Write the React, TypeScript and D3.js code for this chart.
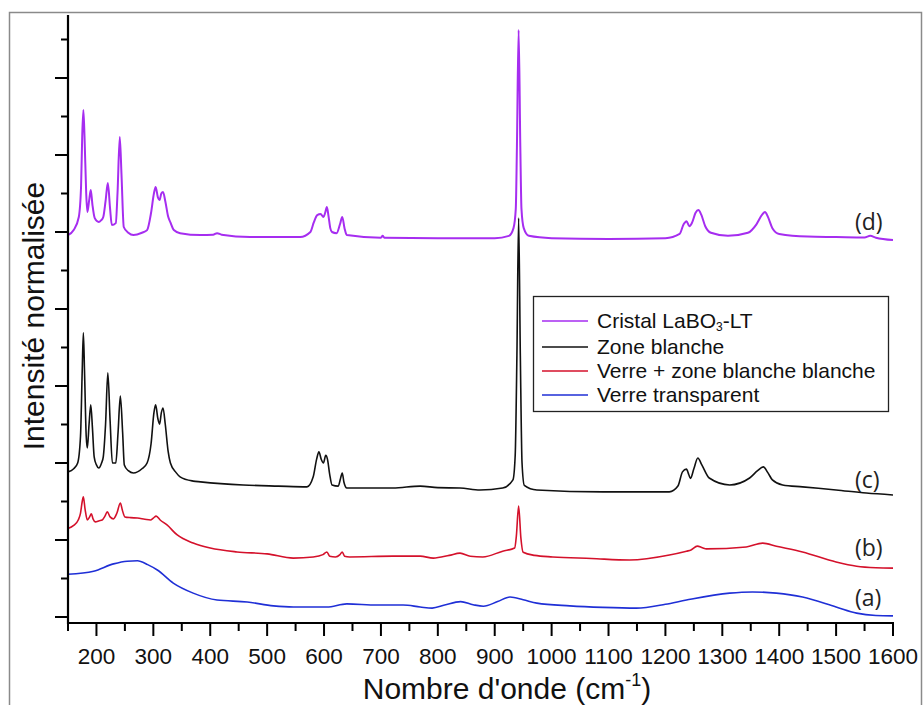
import React from "react";
import * as d3 from "d3";

const xTicksMajor = [200, 300, 400, 500, 600, 700, 800, 900, 1000, 1100, 1200, 1300, 1400, 1500, 1600];
const xTicksMinor = [150, 250, 350, 450, 550, 650, 750, 850, 950, 1050, 1150, 1250, 1350, 1450, 1550];
const yTicksMajor = [0, 2, 4, 6, 8, 10, 12, 14];
const yTicksMinor = [1, 3, 5, 7, 9, 11, 13, 15];

const seriesNames = ["Cristal LaBO3-LT", "Zone blanche", "Verre + zone blanche blanche", "Verre transparent"];
const curveLabels = ["(d)", "(c)", "(b)", "(a)"];

const spectrumA: [number, number][] = [
  [150, 1.11], [195, 1.19], [230, 1.38], [254, 1.45], [272, 1.46], [290, 1.36], [307, 1.22], [335, 0.88], [370, 0.62],
  [412, 0.44], [465, 0.39], [511, 0.29], [546, 0.26], [605, 0.26], [640, 0.34], [693, 0.31], [739, 0.31], [769, 0.26],
  [790, 0.23], [812, 0.31], [840, 0.4], [862, 0.32], [880, 0.28], [905, 0.4], [927, 0.52], [950, 0.45], [974, 0.36],
  [1032, 0.29], [1090, 0.25], [1149, 0.23], [1200, 0.33], [1237, 0.44], [1313, 0.62], [1353, 0.65], [1395, 0.62],
  [1441, 0.52], [1500, 0.26], [1536, 0.1], [1570, 0.04], [1600, 0.03],
];

const spectrumB: [number, number][] = [
  [150, 2.3], [160, 2.38], [168, 2.52], [172, 2.7], [175, 3.0], [177, 3.12], [180, 2.8], [184, 2.52], [188, 2.6],
  [191, 2.68], [194, 2.55], [198, 2.47], [205, 2.5], [210, 2.52], [215, 2.62], [219, 2.73], [224, 2.6], [230, 2.55],
  [236, 2.7], [242, 2.96], [246, 2.75], [250, 2.6], [260, 2.58], [272, 2.57], [285, 2.54], [295, 2.52], [300, 2.57],
  [305, 2.62], [312, 2.52], [324, 2.39], [342, 2.13], [370, 1.92], [400, 1.79], [447, 1.69], [500, 1.64], [546, 1.53],
  [581, 1.56], [598, 1.62], [605, 1.69], [610, 1.58], [620, 1.56], [628, 1.62], [632, 1.69], [636, 1.58], [645, 1.56],
  [721, 1.58], [769, 1.58], [792, 1.53], [820, 1.6], [839, 1.66], [857, 1.58], [879, 1.56], [914, 1.71], [935, 1.79],
  [938, 2.1], [942, 2.88], [946, 2.05], [950, 1.68], [970, 1.6], [1002, 1.56], [1070, 1.52], [1137, 1.48], [1207, 1.61],
  [1237, 1.71], [1245, 1.74], [1256, 1.84], [1265, 1.8], [1272, 1.77], [1342, 1.82], [1371, 1.92], [1395, 1.84],
  [1441, 1.69], [1500, 1.43], [1536, 1.32], [1570, 1.28], [1600, 1.27],
];

const spectrumC: [number, number][] = [
  [150, 3.77], [160, 3.85], [167, 4.0], [172, 4.7], [175, 6.4], [177, 7.38], [179, 6.4], [182, 4.7], [184, 4.39],
  [187, 5.0], [190, 5.51], [193, 4.9], [196, 4.16], [200, 3.95], [204, 3.87], [209, 4.0], [212, 4.16], [216, 5.0],
  [220, 6.34], [224, 5.1], [228, 4.0], [234, 4.0], [238, 4.8], [242, 5.74], [246, 4.8], [249, 3.95], [256, 3.8],
  [265, 3.74], [280, 3.85], [289, 4.0], [296, 4.5], [301, 5.3], [304, 5.51], [308, 5.15], [311, 5.01], [314, 5.3],
  [317, 5.43], [321, 5.0], [326, 4.3], [330, 4.0], [340, 3.75], [347, 3.64], [370, 3.53], [383, 3.51], [458, 3.43],
  [520, 3.4], [570, 3.38], [581, 3.64], [587, 4.1], [591, 4.29], [595, 4.1], [599, 4.0], [603, 4.2], [606, 4.1],
  [610, 3.7], [614, 3.43], [625, 3.4], [629, 3.6], [632, 3.74], [635, 3.5], [640, 3.35], [721, 3.35], [769, 3.4],
  [800, 3.36], [839, 3.35], [874, 3.3], [914, 3.35], [932, 3.56], [936, 4.2], [939, 6.8], [942, 10.36], [945, 6.8],
  [948, 4.0], [952, 3.42], [974, 3.3], [1090, 3.25], [1207, 3.25], [1222, 3.4], [1230, 3.77], [1237, 3.84],
  [1241, 3.7], [1244, 3.6], [1250, 3.85], [1257, 4.13], [1264, 3.95], [1277, 3.61], [1313, 3.43], [1348, 3.61],
  [1362, 3.8], [1372, 3.9], [1380, 3.75], [1388, 3.56], [1406, 3.43], [1441, 3.38], [1500, 3.3], [1553, 3.22],
  [1600, 3.17],
];

const spectrumD: [number, number][] = [
  [150, 9.92], [160, 10.05], [169, 10.39], [173, 11.2], [175, 12.5], [177, 13.17], [179, 12.5], [182, 11.0],
  [184, 10.52], [187, 10.8], [190, 11.09], [193, 10.7], [197, 10.36], [204, 10.26], [208, 10.3], [212, 10.39],
  [216, 10.8], [220, 11.27], [224, 10.6], [227, 10.18], [234, 10.23], [237, 11.0], [241, 12.47], [244, 11.5],
  [248, 10.13], [256, 9.98], [265, 9.92], [280, 9.98], [289, 10.05], [296, 10.5], [301, 11.0], [304, 11.17],
  [308, 10.9], [311, 10.83], [314, 11.0], [317, 11.04], [321, 10.8], [326, 10.4], [330, 10.25], [336, 10.05],
  [347, 9.97], [383, 9.92], [405, 9.93], [412, 9.97], [420, 9.93], [470, 9.87], [558, 9.87], [576, 10.0],
  [582, 10.25], [588, 10.44], [594, 10.47], [599, 10.39], [602, 10.5], [605, 10.65], [608, 10.4], [611, 10.1],
  [614, 10.0], [622, 9.97], [628, 10.2], [632, 10.39], [636, 10.1], [640, 9.92], [700, 9.85], [703, 9.9],
  [706, 9.85], [800, 9.84], [900, 9.84], [925, 9.9], [933, 10.1], [937, 10.6], [939, 12.2], [942, 15.25],
  [945, 12.2], [947, 10.6], [951, 10.1], [960, 9.9], [1000, 9.84], [1100, 9.82], [1200, 9.84], [1225, 9.95],
  [1232, 10.2], [1237, 10.28], [1242, 10.15], [1247, 10.25], [1253, 10.5], [1258, 10.57], [1263, 10.45],
  [1270, 10.15], [1280, 9.98], [1310, 9.9], [1345, 9.98], [1360, 10.2], [1370, 10.45], [1375, 10.52], [1380, 10.4],
  [1388, 10.1], [1400, 9.95], [1450, 9.88], [1500, 9.87], [1550, 9.86], [1560, 9.9], [1570, 9.85], [1600, 9.79],
];

const labelValues = [10.05, 3.35, 1.58, 0.29];

const W = 924;
const H = 705;
const left = 68;
const right = 893;
const top = 15;
const bottom = 623;

const colors = ["#a62df0", "#111111", "#d4112b", "#1f2fd6"];

export default function App() {
  const x = d3.scaleLinear().domain([150, 1600]).range([left, right]);
  const y = d3.scaleLinear().domain([-6 / 38.5, 602 / 38.5]).range([bottom, top]);
  const line = d3
    .line<[number, number]>()
    .x((d) => x(d[0]))
    .y((d) => y(d[1]))
    .curve(d3.curveMonotoneX);
  const series = [spectrumD, spectrumC, spectrumB, spectrumA];
  const font = "'Liberation Sans', Arial, sans-serif";
  const legendRows = [321, 347, 371, 395];

  return (
    <svg width={W} height={H} style={{ position: "absolute", left: 0, top: 0, background: "#fff" }} fontFamily={font}>
      <rect x={0} y={0} width={W} height={H} fill="#fff" />
      <rect x={9.5} y={12.5} width={912} height={720} fill="none" stroke="#8a8a8a" strokeWidth={1.5} />

      {series.map((s, i) => (
        <path key={i} d={line(s) || ""} fill="none" stroke={colors[i]} strokeWidth={i === 0 ? 2 : 1.6} strokeLinejoin="round" />
      ))}

      {/* axes */}
      <line x1={left} x2={left} y1={top} y2={bottom + 1} stroke="#000" strokeWidth={2.2} />
      <line x1={left - 1} x2={right + 1} y1={bottom} y2={bottom} stroke="#000" strokeWidth={2.2} />
      {yTicksMajor.map((t) => (
        <line key={"ym" + t} x1={left - 13} x2={left} y1={y(t)} y2={y(t)} stroke="#000" strokeWidth={2} />
      ))}
      {yTicksMinor.map((t) => (
        <line key={"yn" + t} x1={left - 7} x2={left} y1={y(t)} y2={y(t)} stroke="#000" strokeWidth={2} />
      ))}
      {xTicksMajor.map((t) => (
        <g key={"xm" + t}>
          <line x1={x(t)} x2={x(t)} y1={bottom} y2={bottom + 13} stroke="#000" strokeWidth={2} />
          <text x={x(t)} y={664} textAnchor="middle" fontSize={22.5} fill="#111">{t}</text>
        </g>
      ))}
      {xTicksMinor.map((t) => (
        <line key={"xn" + t} x1={x(t)} x2={x(t)} y1={bottom} y2={bottom + 8} stroke="#000" strokeWidth={2} />
      ))}

      <text x={507} y={699} textAnchor="middle" fontSize={30} fill="#111">
        Nombre d'onde (cm<tspan fontSize={18} dy={-13}>-1</tspan><tspan dy={13}>)</tspan>
      </text>
      <text transform="translate(44,316) rotate(-90)" textAnchor="middle" fontSize={30} fill="#111">
        Intensité normalisée
      </text>

      {curveLabels.map((l, i) => (
        <text key={l} x={855} y={y(labelValues[i])} fontSize={23} fill="#222" fontFamily="'Open Sans', 'Liberation Sans', sans-serif">
          {l}
        </text>
      ))}

      {/* legend */}
      <rect x={533.5} y={296.5} width={355} height={115} fill="#fff" stroke="#222" strokeWidth={1.3} />
      {seriesNames.map((n, i) => (
        <g key={n}>
          <line x1={542} x2={588} y1={legendRows[i]} y2={legendRows[i]} stroke={colors[i]} strokeWidth={1.6} />
          <text x={597} y={legendRows[i] + 7} fontSize={21} fill="#111">
            {i === 0 ? (
              <>
                Cristal LaBO<tspan fontSize={12} dy={3}>3</tspan>
                <tspan dy={-3}>-LT</tspan>
              </>
            ) : (
              n
            )}
          </text>
        </g>
      ))}
    </svg>
  );
}
